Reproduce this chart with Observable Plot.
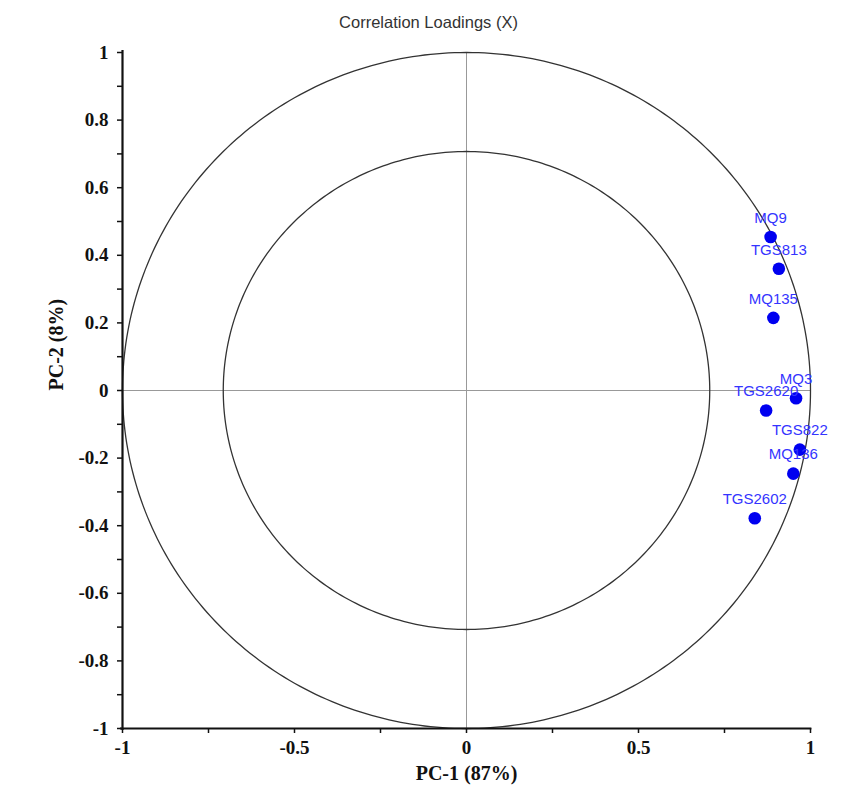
<!DOCTYPE html>
<html>
<head>
<meta charset="utf-8">
<script src="https://cdn.jsdelivr.net/npm/d3@7"></script>
<script src="https://cdn.jsdelivr.net/npm/@observablehq/plot@0.6"></script>
<style>
  body { margin: 0; background: #fff; }
  #chart svg { display: block; }
</style>
</head>
<body>
<div id="chart"></div>
<script>
const title = "Correlation Loadings (X)";
const xLabel = "PC-1 (87%)";
const yLabel = "PC-2 (8%)";
const names = ["MQ9", "TGS813", "MQ135", "MQ3", "TGS2620", "TGS822", "MQ136", "TGS2602"];
const pc1 = [0.884, 0.908, 0.892, 0.958, 0.871, 0.969, 0.950, 0.838];
const pc2 = [0.454, 0.360, 0.215, -0.023, -0.059, -0.175, -0.246, -0.378];
const xTicks = [-1, -0.5, 0, 0.5, 1];
const xMinor = [-0.75, -0.25, 0.25, 0.75];
const yTicks = [-1, -0.8, -0.6, -0.4, -0.2, 0, 0.2, 0.4, 0.6, 0.8, 1];
const yMinor = [-0.9, -0.7, -0.5, -0.3, -0.1, 0.1, 0.3, 0.5, 0.7, 0.9];
const circleRadii = [1, Math.SQRT1_2];

const points = names.map((n, i) => ({name: n, x: pc1[i], y: pc2[i]}));
const circles = circleRadii.flatMap(r =>
  d3.range(0, 361).map(a => ({r, x: r * Math.cos(a * Math.PI / 180), y: r * Math.sin(a * Math.PI / 180)})));

const serif = "'Liberation Serif', 'Times New Roman', serif";
const sans = "'Liberation Sans', Arial, sans-serif";
const fmt = d => String(d);

const chart = Plot.plot({
  width: 846,
  height: 796,
  marginLeft: 122,
  marginRight: 36,
  marginTop: 52,
  marginBottom: 68,
  x: {domain: [-1, 1]},
  y: {domain: [-1, 1]},
  style: {background: "#fff"},
  marks: [
    Plot.ruleY([0], {x1: -1, x2: 1, stroke: "#999", strokeWidth: 1}),
    Plot.ruleX([0], {y1: -1, y2: 1, stroke: "#999", strokeWidth: 1}),
    Plot.line(circles, {x: "x", y: "y", z: "r", stroke: "#333", strokeWidth: 1.3}),
    Plot.ruleX([-1], {y1: -1.006, y2: 1.006, stroke: "#111", strokeWidth: 2.2}),
    Plot.ruleY([-1], {x1: -1.006, x2: 1.004, stroke: "#111", strokeWidth: 2.2}),
    Plot.axisX(xTicks, {tickSize: 5, tickPadding: 7, tickFormat: fmt, label: null,
      fontSize: 19, fontWeight: "bold", fontFamily: serif, fill: "#111", stroke: "#111", strokeWidth: 1.5}),
    Plot.axisX(xMinor, {tickSize: 5, tickFormat: () => "", label: null, stroke: "#111", strokeWidth: 1.5}),
    Plot.axisY(yTicks, {tickSize: 5, tickPadding: 9, tickFormat: fmt, label: null,
      fontSize: 19, fontWeight: "bold", fontFamily: serif, fill: "#111", stroke: "#111", strokeWidth: 1.5}),
    Plot.axisY(yMinor, {tickSize: 5, tickFormat: () => "", label: null, stroke: "#111", strokeWidth: 1.5}),
    Plot.dot(points, {x: "x", y: "y", r: 6.3, fill: "#0000f0", stroke: "none"}),
    Plot.text(points, {x: "x", y: "y", text: "name", dy: -19, fill: "#3434ff",
      fontSize: 15, fontFamily: sans}),
    Plot.text([xLabel], {frameAnchor: "bottom", dy: 51, fontSize: 20, fontWeight: "bold",
      fontFamily: serif, fill: "#111"}),
    Plot.text([yLabel], {frameAnchor: "left", dx: -66, rotate: -90, fontSize: 20, fontWeight: "bold",
      fontFamily: serif, fill: "#111"}),
    Plot.text([title], {frameAnchor: "top", dy: -36, dx: -38, fontSize: 16.5,
      fontFamily: sans, fill: "#333"})
  ]
});
document.getElementById("chart").appendChild(chart);
</script>
</body>
</html>
